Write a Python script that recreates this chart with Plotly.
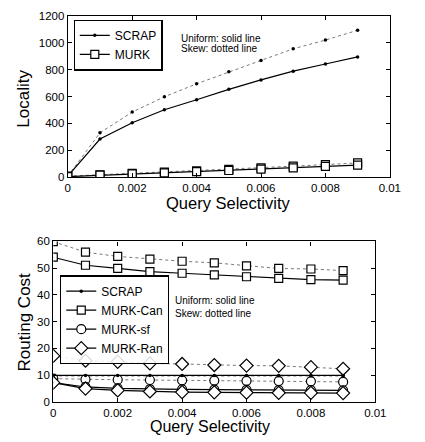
import plotly.graph_objects as go

x = [0, 0.001, 0.002, 0.003, 0.004, 0.005, 0.006, 0.007, 0.008, 0.009]

# Top chart: Locality
scrap_loc_uniform = [8, 284, 405, 501, 576, 653, 723, 788, 841, 894]
scrap_loc_skew = [8, 330, 484, 598, 694, 783, 868, 954, 1019, 1092]
murk_loc_uniform = [5, 15, 24, 32, 41, 50, 60, 70, 80, 90]
murk_loc_skew = [8, 18, 28, 38, 48, 58, 70, 82, 94, 106]

# Bottom chart: Routing cost
scrap_rc_uniform = [9.9, 9.9, 9.9, 9.9, 9.9, 9.9, 9.9, 9.9, 9.9, 9.9]
scrap_rc_skew = [9.7, 9.7, 9.7, 9.7, 9.7, 9.7, 9.7, 9.7, 9.7, 9.7]
can_uniform = [54.1, 51.1, 49.9, 48.7, 48.1, 47.5, 46.8, 46.2, 45.7, 45.5]
can_skew = [59.9, 56.0, 54.4, 53.4, 52.6, 52.0, 50.9, 49.9, 49.7, 49.1]
sf_uniform = [7.2, 5.6, 5.1, 4.8, 4.7, 4.6, 4.5, 4.4, 4.4, 4.3]
sf_skew = [8.7, 8.4, 8.3, 8.2, 8.1, 8.0, 7.9, 7.8, 7.7, 7.5]
ran_uniform = [7.2, 5.0, 4.3, 3.9, 3.7, 3.6, 3.5, 3.4, 3.4, 3.3]
ran_skew = [17.2, 15.4, 15.0, 14.4, 14.2, 13.8, 13.6, 13.5, 13.0, 12.4]

xtickvals = [0, 0.002, 0.004, 0.006, 0.008, 0.01]
xticktext = ["0", "0.002", "0.004", "0.006", "0.008", "0.01"]

FONT = "Liberation Sans, Arial, sans-serif"
BLACK = "black"
GRAY = "#777777"

fig = go.Figure()

def add(xs, ys, name, symbol, size, solid, xa, ya, legend, show):
    filled = symbol == "dot"
    fig.add_trace(go.Scatter(
        x=xs, y=ys, name=name, mode="lines+markers",
        line=dict(color=BLACK if solid else GRAY, width=1.2 if solid else 1,
                  dash="solid" if solid else "dot"),
        marker=dict(symbol="circle" if filled else symbol, size=size,
                    color=BLACK if filled else "white",
                    line=dict(color=BLACK, width=0 if filled else 1.2)),
        xaxis=xa, yaxis=ya, legend=legend, showlegend=show))

# Top
add(x, scrap_loc_skew, "SCRAP", "dot", 3.5, False, "x", "y", "legend", False)
add(x, murk_loc_skew, "MURK", "square", 8, False, "x", "y", "legend", False)
add(x, scrap_loc_uniform, "SCRAP", "dot", 3.5, True, "x", "y", "legend", True)
add(x, murk_loc_uniform, "MURK", "square", 8, True, "x", "y", "legend", True)

# Bottom
add(x, scrap_rc_skew, "SCRAP", "dot", 3.5, False, "x2", "y2", "legend2", False)
add(x, can_skew, "MURK-Can", "square", 8, False, "x2", "y2", "legend2", False)
add(x, sf_skew, "MURK-sf", "circle", 9, False, "x2", "y2", "legend2", False)
add(x, ran_skew, "MURK-Ran", "diamond", 10, False, "x2", "y2", "legend2", False)
add(x, scrap_rc_uniform, "SCRAP", "dot", 3.5, True, "x2", "y2", "legend2", True)
add(x, can_uniform, "MURK-Can", "square", 8, True, "x2", "y2", "legend2", True)
add(x, sf_uniform, "MURK-sf", "circle", 9, True, "x2", "y2", "legend2", True)
add(x, ran_uniform, "MURK-Ran", "diamond", 10, True, "x2", "y2", "legend2", True)

W, H = 425, 442
def dx(a, b):
    return [a / W, b / W]
def dy(top, bot):
    return [1 - bot / H, 1 - top / H]

axis_common = dict(showgrid=False, zeroline=False, showline=True, linecolor=BLACK,
                   linewidth=1.2, mirror="ticks", ticks="inside", ticklen=4,
                   tickcolor=BLACK, tickfont=dict(family=FONT, size=11.5, color=BLACK))

fig.update_layout(
    width=W, height=H, margin=dict(l=0, r=0, t=0, b=0),
    paper_bgcolor="white", plot_bgcolor="white",
    font=dict(family=FONT, color=BLACK),
    xaxis=dict(domain=dx(67, 400), range=[0, 0.01], tickvals=xtickvals,
               ticktext=xticktext, anchor="y", **axis_common),
    yaxis=dict(domain=dy(10, 176), range=[0, 1200],
               tickvals=[0, 200, 400, 600, 800, 1000, 1200], anchor="x", **axis_common),
    xaxis2=dict(domain=dx(52, 385), range=[0, 0.01], tickvals=xtickvals,
                ticktext=xticktext, anchor="y2", **axis_common),
    yaxis2=dict(domain=dy(242, 407), range=[0, 60],
                tickvals=[0, 10, 20, 30, 40, 50, 60], anchor="x2", **axis_common),
    legend=dict(x=73 / W, y=1 - 14 / H, xanchor="left", yanchor="top",
                bordercolor=BLACK, borderwidth=1.2, bgcolor="white",
                font=dict(family=FONT, size=12, color=BLACK),
                itemwidth=30, tracegroupgap=0),
    legend2=dict(x=59 / W, y=1 - 277 / H, xanchor="left", yanchor="top",
                 bordercolor=BLACK, borderwidth=1.2, bgcolor="rgba(255,255,255,0.85)",
                 font=dict(family=FONT, size=12, color=BLACK),
                 itemwidth=30, tracegroupgap=0),
)

ann = [
    dict(text="Uniform: solid line", x=183, y=33, size=10, angle=0, anchor="left", va="middle"),
    dict(text="Skew: dotted line", x=183, y=44, size=10, angle=0, anchor="left", va="middle"),
    dict(text="Uniform: solid line", x=177, y=303, size=10, angle=0, anchor="left", va="middle"),
    dict(text="Skew: dotted line", x=177, y=316, size=10, angle=0, anchor="left", va="middle"),
    dict(text="Query Selectivity", x=233, y=202, size=16.5, angle=0, anchor="center", va="middle"),
    dict(text="Query Selectivity", x=214, y=442, size=16, angle=0, anchor="center", va="bottom"),
    dict(text="Locality", x=21, y=95, size=17, angle=-90, anchor="center", va="middle"),
    dict(text="Routing Cost", x=22, y=325, size=17, angle=-90, anchor="center", va="middle"),
]
for a in ann:
    fig.add_annotation(text=a["text"], xref="paper", yref="paper",
                       x=a["x"] / W, y=1 - a["y"] / H, xanchor=a["anchor"],
                       yanchor=a["va"], showarrow=False, textangle=a["angle"],
                       borderpad=0,
                       font=dict(family=FONT, size=a["size"], color=BLACK))

fig.write_html("out.html")
